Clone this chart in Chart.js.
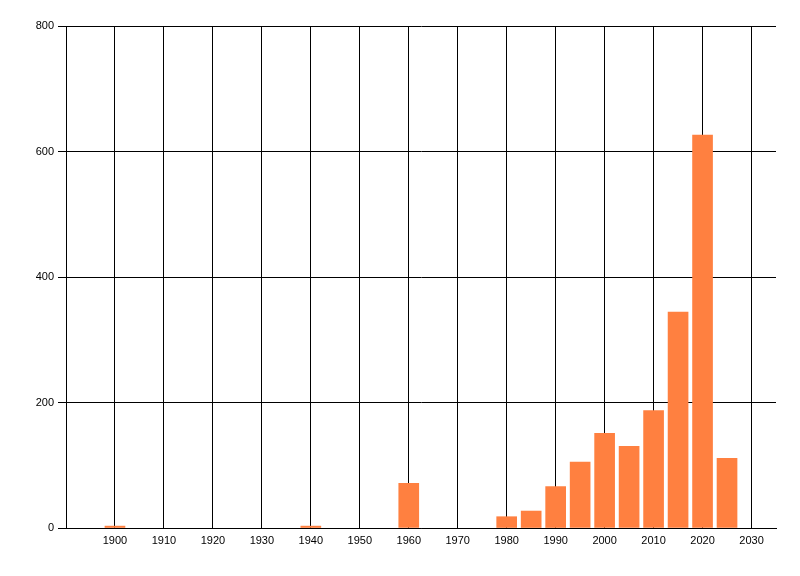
<!DOCTYPE html>
<html>
<head>
<meta charset="utf-8">
<script src="https://cdn.jsdelivr.net/npm/chart.js@4/dist/chart.umd.min.js"></script>
<style>
  html, body { margin: 0; padding: 0; background: #ffffff; }
  #wrap { width: 800px; height: 576px; }
</style>
</head>
<body>
<div id="wrap"><canvas id="c" width="800" height="576"></canvas></div>
<script>
// Data
const years = [1900, 1940, 1960, 1980, 1985, 1990, 1995, 2000, 2005, 2010, 2015, 2020, 2025];
const counts = [3, 3, 71, 18, 27, 66, 105, 151, 130, 187, 344, 626, 111];
const xTickValues = [1900, 1910, 1920, 1930, 1940, 1950, 1960, 1970, 1980, 1990, 2000, 2010, 2020, 2030];
const yTickValues = [0, 200, 400, 600, 800];

const points = years.map((y, i) => ({ x: y, y: counts[i] }));
const tickFont = { family: "'Liberation Sans', Arial, sans-serif", size: 11 };

new Chart(document.getElementById('c'), {
  type: 'bar',
  data: {
    datasets: [{
      data: points,
      backgroundColor: '#ff8040',
      borderWidth: 0,
      barThickness: 20
    }]
  },
  options: {
    responsive: false,
    animation: false,
    layout: { padding: { top: 26, right: 24, bottom: 0, left: 0 } },
    plugins: { legend: { display: false }, tooltip: { enabled: false } },
    scales: {
      x: {
        type: 'linear',
        min: 1890,
        max: 2035,
        offset: false,
        grid: { color: '#000', lineWidth: 1, drawTicks: false, offset: false },
        border: { color: '#000', width: 1 },
        afterBuildTicks: (scale) => { scale.ticks = xTickValues.map(v => ({ value: v })); },
        afterFit: (scale) => { scale.height = 48; },
        ticks: {
          color: '#000',
          font: tickFont,
          padding: 6,
          maxRotation: 0,
          autoSkip: false,
          callback: (v) => String(v)
        }
      },
      y: {
        min: 0,
        max: 800,
        grid: { color: '#000', lineWidth: 1, drawTicks: true, tickLength: 8 },
        border: { color: '#000', width: 1 },
        afterBuildTicks: (scale) => { scale.ticks = yTickValues.map(v => ({ value: v })); },
        afterFit: (scale) => { scale.width = 66; },
        ticks: {
          color: '#000',
          font: tickFont,
          padding: 4,
          callback: (v) => String(v)
        }
      }
    }
  }
});
</script>
</body>
</html>
